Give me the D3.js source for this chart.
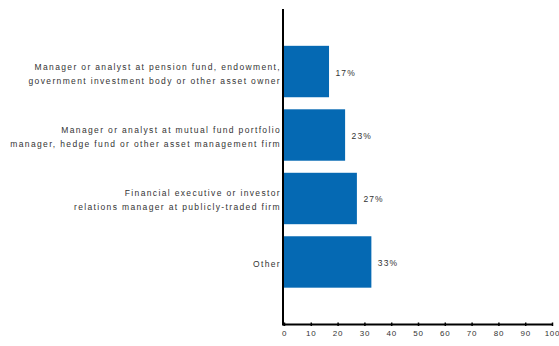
<!DOCTYPE html>
<html><head><meta charset="utf-8">
<script src="https://cdn.jsdelivr.net/npm/d3@7"></script>
<style>body{margin:0;background:#fff}text{font-family:"Liberation Sans",Arial,sans-serif}</style>
</head><body><svg id="c" width="559" height="346"></svg>
<script>
const categories = [
  ["Manager or analyst at pension fund, endowment,", "government investment body or other asset owner"],
  ["Manager or analyst at mutual fund portfolio", "manager, hedge fund or other asset management firm"],
  ["Financial executive or investor", "relations manager at publicly-traded firm"],
  ["Other"]
];
const values = [16.8, 22.8, 27.2, 32.6];
const valueLabels = ["17%", "23%", "27%", "33%"];
const xTicks = [0,10,20,30,40,50,60,70,80,90,100];

const svg = d3.select("#c");
const x0 = 284, x1 = 552, yTop = 9, yBot = 324.5;
const x = d3.scaleLinear().domain([0,100]).range([x0,x1]);
const y = d3.scaleBand().domain(d3.range(categories.length)).range([yTop, yBot]).paddingInner(0.19).paddingOuter(0.58);

svg.selectAll("rect.bar").data(values).join("rect").attr("class","bar")
  .attr("x", x(0)).attr("y",(d,i)=>y(i)).attr("width",d=>x(d)-x(0)).attr("height",y.bandwidth())
  .attr("fill","#0569b3");

svg.selectAll("text.val").data(values).join("text").attr("class","val")
  .attr("x",d=>x(d)+6.5).attr("y",(d,i)=>y(i)+y.bandwidth()/2+4)
  .attr("font-size",8.5).attr("letter-spacing",1.1).attr("fill","#333")
  .text((d,i)=>valueLabels[i]);

categories.forEach((lines,i)=>{
  const cy = y(i)+y.bandwidth()/2;
  const n = lines.length;
  lines.forEach((t,j)=>{
    svg.append("text").attr("x",281).attr("text-anchor","end")
      .attr("y", cy + (j-(n-1)/2)*14 + 5)
      .attr("font-size",8.5).attr("letter-spacing",1.35).attr("fill","#333").text(t);
  });
});

// x axis
const xa = svg.append("g").attr("transform",`translate(0,${yBot})`)
  .call(d3.axisBottom(x).tickValues(xTicks).tickSize(3).tickFormat(d3.format("d")));
xa.select(".domain").attr("stroke","#000").attr("stroke-width",2).attr("d",`M${x0-1},0H${x1}`);
xa.selectAll(".tick line").attr("stroke","#000").attr("stroke-width",1.5).attr("y1",-2).attr("y2",1.5);
xa.selectAll(".tick text").attr("font-size",8).attr("letter-spacing",0.8).attr("fill","#333")
  .attr("font-family","Liberation Sans, Arial, sans-serif").attr("y",6);

// y axis line
svg.append("line").attr("x1",x0-1).attr("x2",x0-1).attr("y1",yTop).attr("y2",yBot+1)
  .attr("stroke","#000").attr("stroke-width",2);
</script></body></html>
